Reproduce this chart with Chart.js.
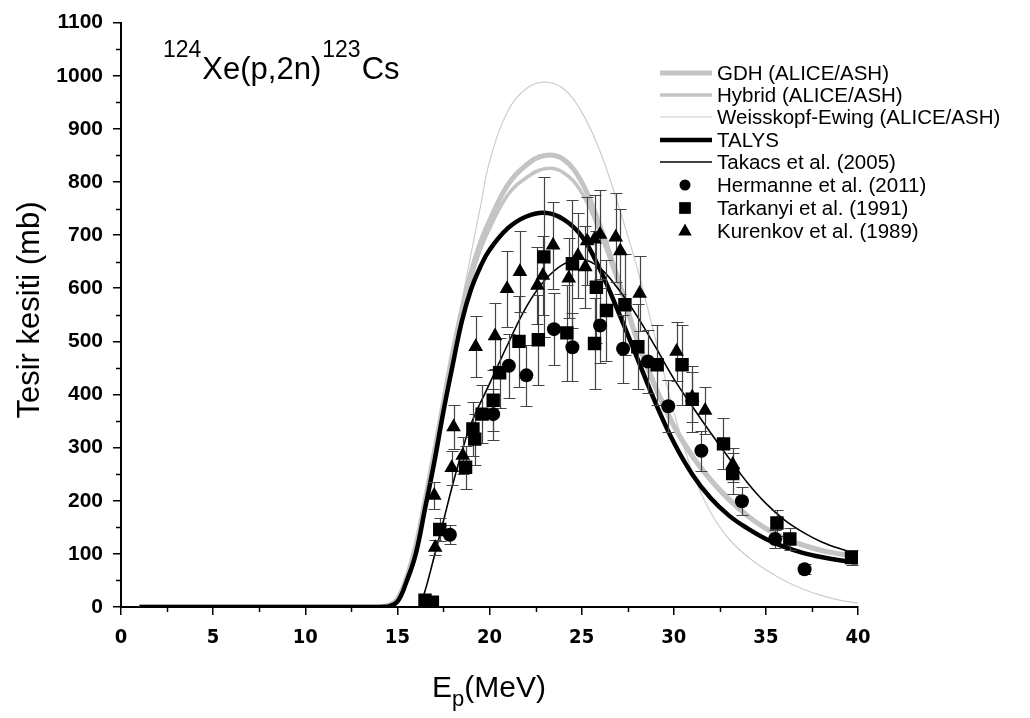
<!DOCTYPE html>
<html>
<head>
<meta charset="utf-8">
<script src="https://cdn.jsdelivr.net/npm/chart.js@4.4.1/dist/chart.umd.min.js"></script>
<style>
  html, body { margin: 0; padding: 0; background: #fff; }
  canvas { display: block; }
</style>
</head>
<body>
<canvas id="xs" width="1030" height="718"></canvas>
<script>
// model curves (E in MeV, cross section in mb)
var energy = [1, 14, 14.5, 15, 15.5, 16, 16.5, 17, 17.5, 18, 18.5, 19, 19.5, 20, 21, 22, 23, 24, 25, 26, 27, 28, 29, 30, 31, 32, 33, 34, 35, 36, 37, 38, 39, 40];
var gdh = [0, 0, 3, 15, 55, 115, 200, 290, 385, 478, 560, 630, 685, 727, 795, 832, 850, 843, 800, 717, 615, 505, 415, 342, 285, 240, 203, 172, 148, 130, 117, 107, 100, 95];
var hybrid = [0, 0, 3, 15, 55, 113, 196, 285, 378, 470, 550, 618, 672, 712, 776, 808, 825, 818, 780, 704, 607, 500, 410, 338, 282, 237, 200, 170, 146, 128, 115, 105, 99, 94];
var weisskopf = [0, 0, 2, 12, 50, 120, 205, 300, 390, 475, 575, 665, 752, 838, 934, 976, 988, 976, 932, 858, 755, 640, 505, 368, 255, 178, 128, 95, 70, 50, 34, 22, 13, 7];
var talys = [0, 0, 1, 10, 48, 100, 185, 272, 368, 455, 538, 598, 640, 672, 713, 735, 742, 730, 698, 635, 555, 470, 385, 310, 250, 205, 172, 148, 128, 113, 102, 94, 88, 84];

var takacsE = [16.2, 16.5, 17, 17.5, 18, 18.5, 19, 20, 21, 22, 23, 24, 25, 26, 27, 28, 29, 30, 31, 32, 33, 34, 35, 36, 37, 38, 39, 40];
var takacs = [0, 30, 95, 162, 230, 292, 345, 420, 495, 565, 615, 645, 655, 638, 598, 548, 490, 430, 378, 328, 280, 234, 195, 164, 141, 123, 110, 100];

// experimental data
var hermE = [16.6, 17.85, 20.2, 21.05, 22.0, 23.5, 24.5, 26.0, 27.25, 28.6, 29.7, 31.5, 33.7, 35.5, 37.1];
var hermV = [10, 136, 363, 454, 436, 523, 489, 530, 486, 462, 378, 294, 199, 128, 71];
var hermErr = [3, 18, 48, 60, 57, 68, 64, 70, 64, 60, 49, 38, 26, 17, 9];

var tarkE = [16.5, 16.9, 17.3, 18.7, 19.1, 19.2, 19.6, 20.2, 20.55, 21.6, 22.65, 22.95, 24.2, 24.5, 25.7, 25.8, 26.35, 27.35, 28.05, 29.1, 30.45, 31.0, 32.7, 33.2, 35.6, 36.3, 39.65];
var tarkV = [13, 9, 146, 263, 335, 316, 363, 389, 441, 500, 503, 659, 516, 646, 496, 602, 558, 569, 490, 456, 456, 391, 307, 251, 158, 128, 93];
var tarkErr = [3, 2, 22, 40, 50, 48, 55, 58, 66, 85, 85, 150, 90, 120, 85, 105, 95, 95, 80, 75, 75, 62, 48, 38, 25, 20, 14];

var kurE = [17.0, 17.05, 17.95, 18.05, 18.55, 19.25, 20.3, 20.95, 21.65, 22.6, 22.9, 23.45, 24.3, 24.8, 25.2, 25.3, 25.7, 26.0, 26.85, 27.1, 28.15, 30.15, 31.0, 31.7, 33.2];
var kurV = [210, 112, 262, 339, 285, 490, 510, 599, 631, 605, 624, 681, 619, 661, 640, 689, 692, 701, 696, 670, 590, 481, 395, 370, 268];
var kurErr = [25, 14, 32, 42, 35, 58, 62, 72, 76, 73, 75, 82, 75, 80, 77, 83, 83, 84, 84, 80, 70, 56, 47, 44, 32];

var FONT = '"Liberation Sans", Arial, sans-serif';

function pts(xs, ys) {
  return xs.map(function (x, i) { return { x: x, y: ys[i] }; });
}

function curve(label, xs, ys, color, width, order) {
  return {
    label: label, data: pts(xs, ys), showLine: true, pointRadius: 0,
    borderColor: color, borderWidth: width, tension: 0.4,
    fill: false, order: order
  };
}

function markers(label, xs, ys, errs, style, r) {
  return {
    label: label, data: pts(xs, ys), showLine: false, errors: errs,
    pointStyle: style, pointRadius: r, pointBackgroundColor: '#000',
    pointBorderColor: '#000', pointBorderWidth: 0, order: 1
  };
}

var datasets = [
  curve('Weisskopf-Ewing (ALICE/ASH)', energy, weisskopf, '#cdcdcd', 1.2, 6),
  curve('Hybrid (ALICE/ASH)', energy, hybrid, '#c4c4c4', 3.5, 5),
  curve('GDH (ALICE/ASH)', energy, gdh, '#c4c4c4', 5, 4),
  curve('TALYS', energy, talys, '#000', 4.5, 3),
  curve('Takacs et al. (2005)', takacsE, takacs, '#000', 1.6, 2),
  markers('Hermanne et al. (2011)', hermE, hermV, hermErr, 'circle', 7),
  markers('Tarkanyi et al. (1991)', tarkE, tarkV, tarkErr, 'rect', 9.5),
  markers('Kurenkov et al. (1989)', kurE, kurV, kurErr, 'triangle', 8.5)
];

// legend rows: [label, kind, width/size, color]
var legendRows = [
  ['GDH (ALICE/ASH)', 'line', 5, '#c4c4c4'],
  ['Hybrid (ALICE/ASH)', 'line', 3.5, '#c4c4c4'],
  ['Weisskopf-Ewing (ALICE/ASH)', 'line', 1.2, '#cdcdcd'],
  ['TALYS', 'line', 4.5, '#000'],
  ['Takacs et al. (2005)', 'line', 1.6, '#000'],
  ['Hermanne et al. (2011)', 'circle', 5.5, '#000'],
  ['Tarkanyi et al. (1991)', 'rect', 6.5, '#000'],
  ['Kurenkov et al. (1989)', 'triangle', 7.5, '#000']
];

var extras = {
  id: 'extras',
  afterDatasetDraw: function (chart, args) {
    // error bars go under the markers, above the curves
    if (args.index !== 4) return;
    var ctx = chart.ctx, x = chart.scales.x, y = chart.scales.y;
    ctx.save();
    ctx.strokeStyle = '#444';
    ctx.lineWidth = 1.2;
    chart.data.datasets.forEach(function (ds) {
      if (!ds.errors) return;
      ds.data.forEach(function (p, i) {
        var px = Math.round(x.getPixelForValue(p.x)) + 0.5;
        var t = Math.round(y.getPixelForValue(p.y + ds.errors[i])) + 0.5;
        var b = Math.round(y.getPixelForValue(Math.max(0, p.y - ds.errors[i]))) + 0.5;
        ctx.beginPath();
        ctx.moveTo(px, t); ctx.lineTo(px, b);
        ctx.moveTo(px - 6, t); ctx.lineTo(px + 6, t);
        ctx.moveTo(px - 6, b); ctx.lineTo(px + 6, b);
        ctx.stroke();
      });
    });
    ctx.restore();
  },
  afterDraw: function (chart) {
    var ctx = chart.ctx, x = chart.scales.x, y = chart.scales.y;
    var area = chart.chartArea;
    ctx.save();
    ctx.strokeStyle = '#000';
    ctx.lineWidth = 1.5;
    // minor ticks
    for (var v = 50; v < 1100; v += 100) {
      var py = Math.round(y.getPixelForValue(v)) + 0.5;
      ctx.beginPath(); ctx.moveTo(area.left, py); ctx.lineTo(area.left - 5, py); ctx.stroke();
    }
    for (var e = 2.5; e < 40; e += 5) {
      var px = Math.round(x.getPixelForValue(e)) + 0.5;
      ctx.beginPath(); ctx.moveTo(px, area.bottom); ctx.lineTo(px, area.bottom + 5); ctx.stroke();
    }

    ctx.fillStyle = '#000';
    ctx.textBaseline = 'alphabetic';
    // reaction title
    var tx = 163;
    ctx.font = '23px ' + FONT;
    ctx.fillText('124', tx, 57); tx += ctx.measureText('124').width + 1;
    ctx.font = '31px ' + FONT;
    ctx.fillText('Xe(p,2n)', tx, 79); tx += ctx.measureText('Xe(p,2n)').width + 1;
    ctx.font = '23px ' + FONT;
    ctx.fillText('123', tx, 57); tx += ctx.measureText('123').width + 1;
    ctx.font = '31px ' + FONT;
    ctx.fillText('Cs', tx, 79);

    // x axis title with subscript
    ctx.font = '30px ' + FONT;
    var w1 = ctx.measureText('E').width;
    var w3 = ctx.measureText('(MeV)').width;
    ctx.font = '22px ' + FONT;
    var w2 = ctx.measureText('p').width;
    var sx = 489 - (w1 + w2 + w3) / 2;
    ctx.font = '30px ' + FONT;
    ctx.fillText('E', sx, 697);
    ctx.fillText('(MeV)', sx + w1 + w2, 697);
    ctx.font = '22px ' + FONT;
    ctx.fillText('p', sx + w1, 706);

    // y axis title
    ctx.save();
    ctx.translate(39, 310);
    ctx.rotate(-Math.PI / 2);
    ctx.textAlign = 'center';
    ctx.font = '31px ' + FONT;
    ctx.fillText('Tesir kesiti (mb)', 0, 0);
    ctx.restore();

    // legend
    var rowY = [73, 95, 117, 140, 162, 185, 208, 231];
    ctx.font = '20.5px ' + FONT;
    ctx.textBaseline = 'middle';
    legendRows.forEach(function (row, i) {
      var cy = rowY[i];
      if (row[1] === 'line') {
        ctx.strokeStyle = row[3];
        ctx.lineWidth = row[2];
        ctx.beginPath(); ctx.moveTo(660, cy); ctx.lineTo(712, cy); ctx.stroke();
      } else {
        ctx.fillStyle = '#000';
        ctx.beginPath();
        if (row[1] === 'circle') ctx.arc(685, cy, row[2], 0, Math.PI * 2);
        if (row[1] === 'rect') ctx.rect(685 - row[2] * 0.9, cy - row[2] * 0.9, row[2] * 1.8, row[2] * 1.8);
        if (row[1] === 'triangle') {
          ctx.moveTo(685, cy - row[2]);
          ctx.lineTo(685 + row[2] * 0.9, cy + row[2] * 0.6);
          ctx.lineTo(685 - row[2] * 0.9, cy + row[2] * 0.6);
          ctx.closePath();
        }
        ctx.fill();
      }
      ctx.fillStyle = '#000';
      ctx.fillText(row[0], 717, cy + 1);
    });
    ctx.restore();
  }
};

var chart = new Chart(document.getElementById('xs').getContext('2d'), {
  type: 'scatter',
  data: { datasets: datasets },
  plugins: [extras],
  options: {
    responsive: false,
    animation: false,
    devicePixelRatio: 1,
    layout: { padding: { left: 0, right: 172, top: 16, bottom: 0 } },
    plugins: { legend: { display: false }, tooltip: { enabled: false } },
    scales: {
      x: {
        type: 'linear', min: 0, max: 40,
        ticks: {
          stepSize: 5, color: '#000', padding: 11, maxRotation: 0,
          font: { family: '"Liberation Sans Narrow", "DejaVu Sans Condensed", sans-serif', size: 20, weight: 'bold' }
        },
        grid: { drawOnChartArea: false, tickLength: 8, color: '#000', lineWidth: 1.5 },
        border: { color: '#000', width: 2 },
        afterFit: function (s) { s.height = 111; }
      },
      y: {
        min: 0, max: 1100,
        ticks: {
          stepSize: 100, color: '#000', padding: 10,
          callback: function (v) { return String(v); },
          font: { family: FONT, size: 21, weight: 'bold' }
        },
        grid: { drawOnChartArea: false, tickLength: 8, color: '#000', lineWidth: 1.5 },
        border: { color: '#000', width: 2 },
        afterFit: function (s) { s.width = 121; }
      }
    }
  }
});
</script>
</body>
</html>
